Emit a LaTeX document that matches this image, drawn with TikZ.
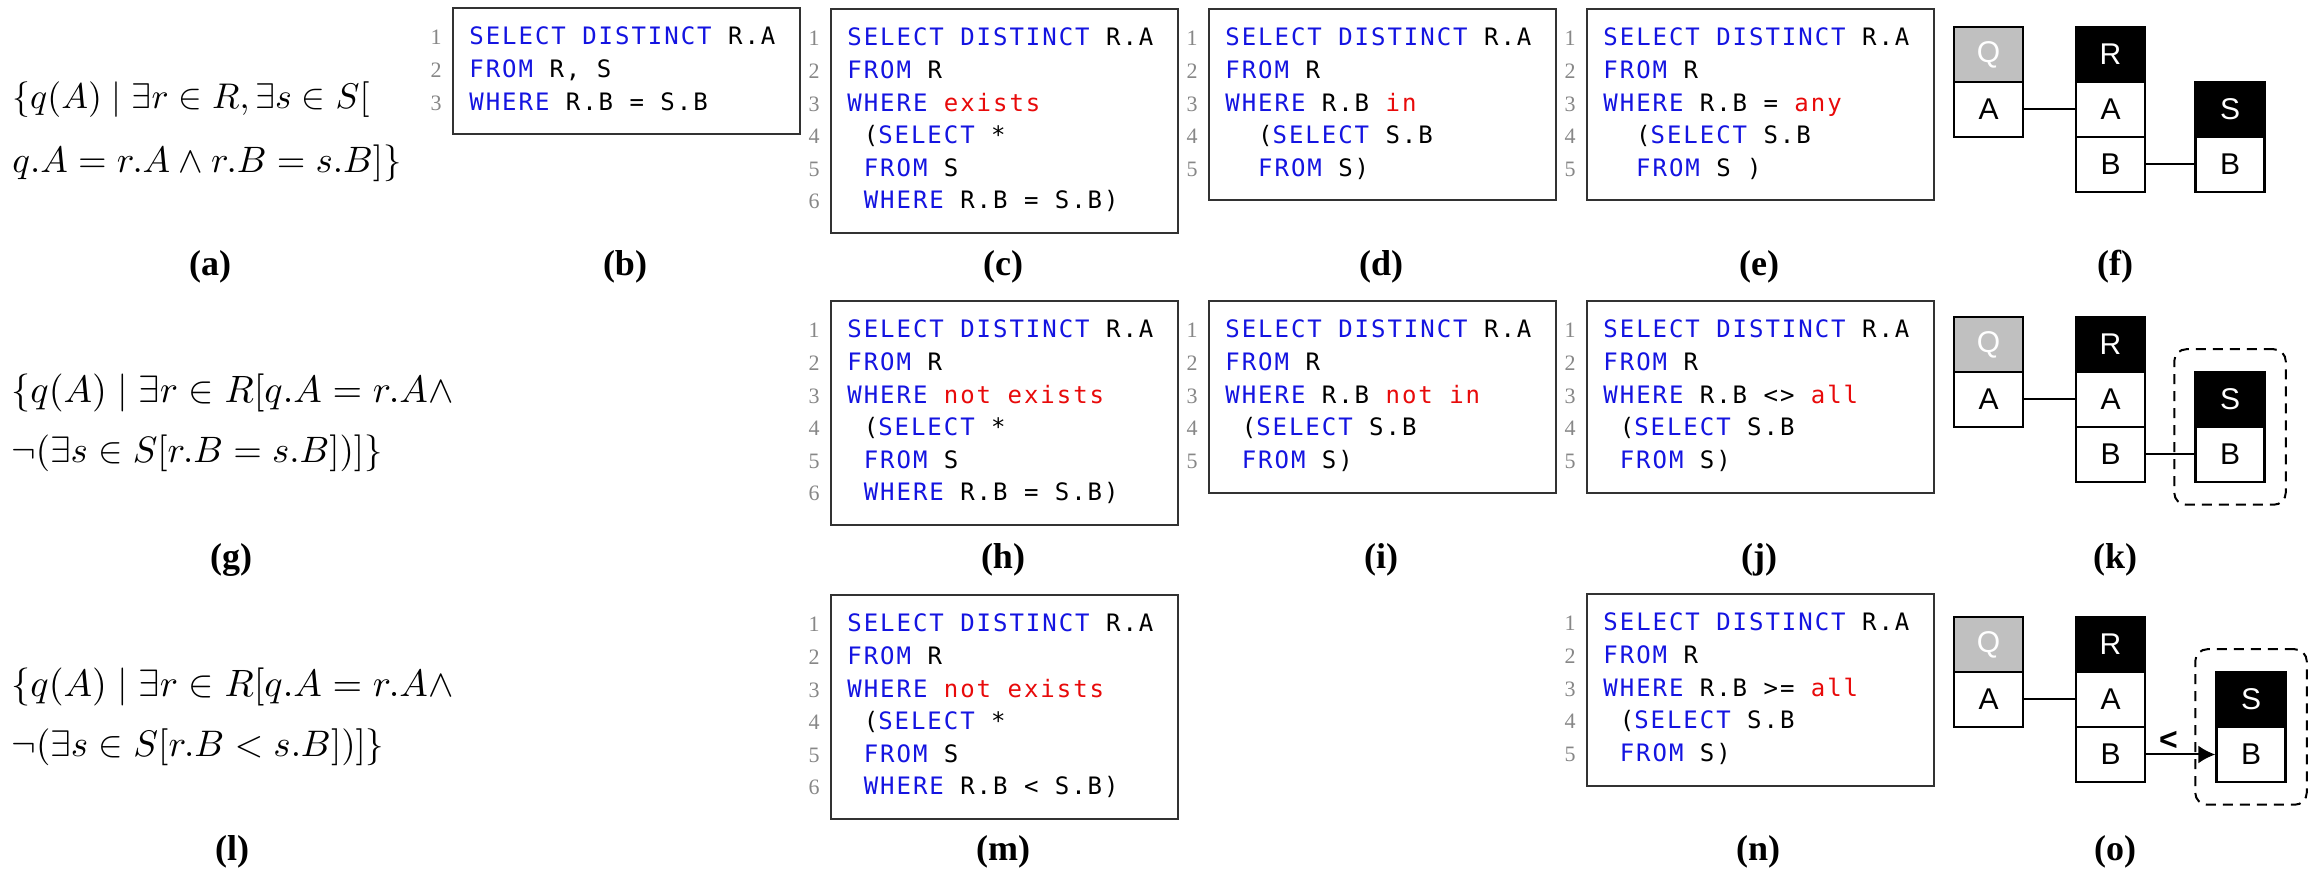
\documentclass[tikz,border=0pt]{standalone}
\usepackage{fontspec}
\usepackage{graphicx}
\usetikzlibrary{fit,arrows.meta}
\newfontfamily\codefnt[LetterSpace=8.2]{DejaVu Sans Mono}
\newfontfamily\numfnt{Liberation Serif}
\newfontfamily\lblfnt{Liberation Serif}
\newfontfamily\erfnt{Liberation Sans}
\definecolor{kwblue}{RGB}{20,20,225}
\definecolor{kwred}{RGB}{232,10,10}
\definecolor{numgray}{RGB}{135,135,135}
\definecolor{qgray}{RGB}{192,192,192}
\definecolor{framegray}{RGB}{50,50,50}
\newcommand\kw[1]{\textcolor{kwblue}{#1}}
\newcommand\op[1]{\textcolor{kwred}{#1}}
\newcommand\ind{\hspace*{8.2pt}}
\tikzset{
  codebox/.style={draw=framegray, line width=1pt, inner sep=0pt},
  codest/.style={font={\codefnt\fontsize{12pt}{16pt}\selectfont\spaceskip=8.2pt\relax}, inner sep=0pt, anchor=base west},
  numst/.style={font={\numfnt\fontsize{11pt}{12pt}\selectfont}, text=numgray, inner sep=0pt, anchor=base east},
  lblst/.style={font={\lblfnt\bfseries\fontsize{18pt}{20pt}\selectfont}, inner sep=0pt},
  fst/.style={inner sep=0pt, anchor=west},
  cell/.style={draw=black, line width=1.25pt, minimum width=34.5pt, minimum height=27.5pt, inner sep=0pt, font={\erfnt\fontsize{15pt}{15pt}\selectfont}, fill=white},
  qhead/.style={cell, fill=qgray, text=white},
  hhead/.style={cell, fill=black, text=white},
  link/.style={draw=black, line width=1pt},
  arr/.style={-{Latex[length=8.5pt,width=9pt]}},
  dashbox/.style={draw=black, line width=1pt, dash pattern=on 5pt off 3.5pt, rounded corners=6pt, inner xsep=10pt, inner ysep=10.75pt},
  ltlbl/.style={font={\erfnt\bfseries\fontsize{16pt}{16pt}\selectfont}, inner sep=0pt, anchor=south, yshift=1.5pt}
}
\newcommand\listing[5]{%
  \node[codebox, minimum width=173.5pt, minimum height=#4*0.5pt, anchor=north west] (#1) at (#2,#3) {};
  \foreach \ln [count=\i] in {#5} {
    \node[numst] (#1n\i) at (#2-10, #3+38+32.6*\i-32.6) {\i};
    \node[codest] (#1l\i) at (#2+17, #3+38+32.6*\i-32.6) {\ln};
  }%
}
\newcommand\erdiag[3]{%
  \node[qhead] (#1Q) at (1988.5, #2+27.5) {Q};
  \node[cell] (#1QA) at (1988.5, #2+82.5) {A};
  \node[hhead] (#1R) at (2110.5, #2+27.5) {R};
  \node[cell] (#1RA) at (2110.5, #2+82.5) {A};
  \node[cell] (#1RB) at (2110.5, #2+137.5) {B};
  \node[hhead] (#1S) at (#3, #2+82.5) {S};
  \node[cell] (#1SB) at (#3, #2+137.5) {B};
  \draw[link] (#1QA) -- (#1RA);
}
\begin{document}
\begin{tikzpicture}[x=0.5pt,y=-0.5pt]
\fill[white] (0,0) rectangle (2308,870);
\useasboundingbox (0,0) rectangle (2308,870);

% formulas
\node[fst] (a1) at (12,100) {\resizebox{178.5pt}{!}{$\{q(A)\mid \exists r\in R,\exists s\in S[$}};
\node[fst] (a2) at (12,163) {\resizebox{194.5pt}{!}{$q.A=r.A\wedge r.B=s.B]\}$}};
\node[fst] (g1) at (11,393) {\resizebox{221pt}{!}{$\{q(A)\mid \exists r\in R[q.A=r.A\wedge$}};
\node[fst] (g2) at (11,453) {\resizebox{185.5pt}{!}{$\neg(\exists s\in S[r.B=s.B])]\}$}};
\node[fst] (l1) at (11,687) {\resizebox{221pt}{!}{$\{q(A)\mid \exists r\in R[q.A=r.A\wedge$}};
\node[fst] (l2) at (11,747) {\resizebox{186.5pt}{!}{$\neg(\exists s\in S[r.B<s.B])]\}$}};

% listings
\listing{b}{452}{7}{126}{{\kw{SELECT} \kw{DISTINCT} R.A},{\kw{FROM} R, S},{\kw{WHERE} R.B = S.B}}
\listing{c}{830}{8}{224}{{\kw{SELECT} \kw{DISTINCT} R.A},{\kw{FROM} R},{\kw{WHERE} \op{exists}},{\ind(\kw{SELECT} *},{\ind\kw{FROM} S},{\ind\kw{WHERE} R.B = S.B)}}
\listing{d}{1208}{8}{191}{{\kw{SELECT} \kw{DISTINCT} R.A},{\kw{FROM} R},{\kw{WHERE} R.B \op{in}},{\ind\ind(\kw{SELECT} S.B},{\ind\ind\kw{FROM} S)}}
\listing{e}{1586}{8}{191}{{\kw{SELECT} \kw{DISTINCT} R.A},{\kw{FROM} R},{\kw{WHERE} R.B = \op{any}},{\ind\ind(\kw{SELECT} S.B},{\ind\ind\kw{FROM} S )}}
\listing{h}{830}{300}{224}{{\kw{SELECT} \kw{DISTINCT} R.A},{\kw{FROM} R},{\kw{WHERE} \op{not exists}},{\ind(\kw{SELECT} *},{\ind\kw{FROM} S},{\ind\kw{WHERE} R.B = S.B)}}
\listing{i}{1208}{300}{192}{{\kw{SELECT} \kw{DISTINCT} R.A},{\kw{FROM} R},{\kw{WHERE} R.B \op{not in}},{\ind(\kw{SELECT} S.B},{\ind\kw{FROM} S)}}
\listing{j}{1586}{300}{192}{{\kw{SELECT} \kw{DISTINCT} R.A},{\kw{FROM} R},{\kw{WHERE} R.B <> \op{all}},{\ind(\kw{SELECT} S.B},{\ind\kw{FROM} S)}}
\listing{m}{830}{594}{224}{{\kw{SELECT} \kw{DISTINCT} R.A},{\kw{FROM} R},{\kw{WHERE} \op{not exists}},{\ind(\kw{SELECT} *},{\ind\kw{FROM} S},{\ind\kw{WHERE} R.B < S.B)}}
\listing{n}{1586}{593}{192}{{\kw{SELECT} \kw{DISTINCT} R.A},{\kw{FROM} R},{\kw{WHERE} R.B >= \op{all}},{\ind(\kw{SELECT} S.B},{\ind\kw{FROM} S)}}

% ER diagrams
\erdiag{f}{27}{2230}
\draw[link] (fRB) -- (fSB);
\erdiag{k}{317}{2230}
\draw[link] (kRB) -- (kSB);
\node[dashbox, fit=(kS)(kSB)] (kD) {};
\erdiag{o}{617}{2251}
\draw[link, arr] (oRB) -- (oSB) node[ltlbl, pos=0.32] (olt) {<};
\node[dashbox, fit=(oS)(oSB)] (oD) {};

% labels
\node[lblst] (la) at (210,267) {(a)};
\node[lblst] (lb) at (625,267) {(b)};
\node[lblst] (lc) at (1003,267) {(c)};
\node[lblst] (ld) at (1381,267) {(d)};
\node[lblst] (le) at (1759,267) {(e)};
\node[lblst] (lf) at (2115,267) {(f)};
\node[lblst] (lg) at (231,560) {(g)};
\node[lblst] (lh) at (1003,560) {(h)};
\node[lblst] (li) at (1381,560) {(i)};
\node[lblst] (lj) at (1759,560) {(j)};
\node[lblst] (lk) at (2115,560) {(k)};
\node[lblst] (ll) at (232,852) {(l)};
\node[lblst] (lm) at (1003,852) {(m)};
\node[lblst] (ln) at (1758,852) {(n)};
\node[lblst] (lo) at (2115,852) {(o)};
\end{tikzpicture}
\end{document}
